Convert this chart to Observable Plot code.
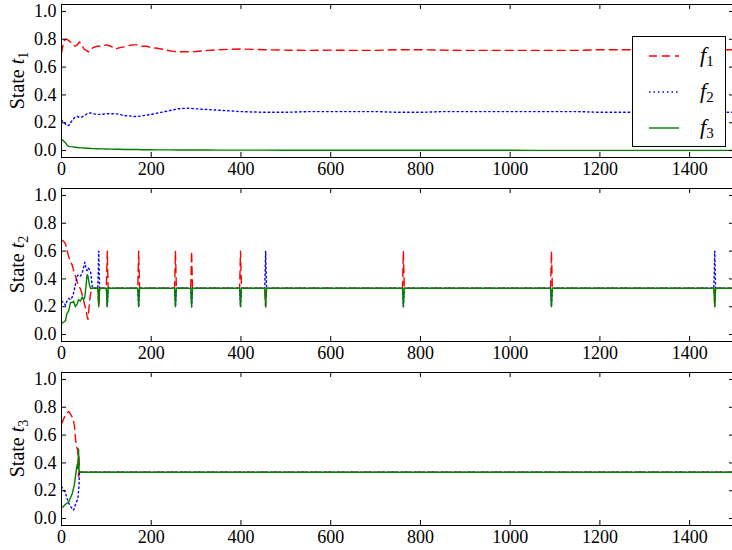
<!DOCTYPE html>
<html><head><meta charset="utf-8">
<script src="https://cdn.jsdelivr.net/npm/d3@7"></script>
<script src="https://cdn.jsdelivr.net/npm/@observablehq/plot@0.6"></script>
<style>
body{margin:0;background:#fff;overflow:hidden;width:732px;height:550px;position:relative;font-family:"Liberation Serif",serif}
#chart{position:absolute;left:0;top:0;width:735px}
#chart svg{display:block;max-width:none !important;overflow:visible}
#legend{position:absolute;left:632px;top:36px;width:92px;height:109px;border:1px solid #000;background:#fff}
</style></head><body><div id="chart"></div><div id="legend"></div>
<script>
const xTicks = [0, 200, 400, 600, 800, 1000, 1200, 1400];
const yTicks = [0, 0.2, 0.4, 0.6, 0.8, 1.0];
const seriesNames = ["1", "2", "3"];
const seriesColors = ["#ff0000", "#0000ff", "#008000"];
const seriesDash = ["8,5", "1.5,3", null];
const panelSubs = ["1", "2", "3"];

// Panel 1 (State t1)
const t1 = [0,3,6,9,12,16,20,25,30,35,40,45,50,55,60,65,70,80,90,100,110,120,130,140,150,160,170,180,190,200,215,230,245,260,280,300,325,350,375,400,450,500,550,600,650,700,750,800,850,900,950,1000,1050,1100,1150,1200,1250,1300,1350,1400,1450,1500];
const p1f1 = [.70,.75,.79,.80,.80,.79,.78,.76,.75,.76,.78,.76,.73,.72,.71,.72,.74,.75,.75,.76,.75,.73,.74,.745,.755,.76,.76,.75,.75,.74,.735,.725,.715,.71,.71,.712,.72,.725,.728,.73,.725,.722,.72,.722,.72,.72,.725,.725,.722,.72,.72,.72,.72,.72,.72,.725,.725,.725,.725,.725,.725,.725];
const p1f2 = [.22,.21,.20,.19,.18,.18,.20,.22,.24,.245,.24,.24,.25,.26,.27,.27,.265,.26,.26,.265,.265,.265,.26,.25,.25,.245,.245,.25,.255,.26,.27,.28,.29,.30,.305,.30,.295,.29,.285,.28,.275,.275,.28,.28,.28,.28,.275,.275,.28,.28,.28,.28,.28,.28,.28,.275,.275,.275,.275,.275,.275,.275];
const p1f3 = [.08,.075,.065,.055,.04,.03,.028,.026,.024,.022,.02,.019,.018,.017,.016,.015,.014,.013,.012,.011,.010,.009,.009,.008,.008,.007,.007,.006,.006,.006,.005,.005,.005,.004,.004,.004,.004,.003,.003,.003,.003,.002,.002,.002,.002,.002,.002,.002,.002,.002,.002,.002,.001,.001,.001,.001,.001,.001,.001,.001,.001,.001];

// Panel 2 (State t2)
const t2 = [0,5,9,12,16,20,24,27,31,35,38,42,46,49,52,55,57,59,62,65,69,81,83,85,100,102,104,170,172,174,252,254,256,288,290,292,397,399,401,453,455,457,760,762,764,1090,1092,1094,1454,1456,1458,1500];
const p2f1 = [.68,.67,.65,.61,.56,.52,.50,.46,.42,.38,.35,.33,.29,.25,.21,.17,.13,.11,.22,.30,.333,
  .333,.2,.333, .333,.6,.333, .333,.6,.333, .333,.6,.333, .333,.6,.333, .333,.6,.333, .333,.2,.333, .333,.6,.333, .333,.6,.333, .333,.2,.333, .333];
const p2f2 = [.24,.23,.21,.24,.26,.25,.27,.30,.36,.42,.43,.42,.44,.48,.52,.47,.46,.48,.47,.45,.333,
  .333,.6,.333, .333,.2,.333, .333,.2,.333, .333,.2,.333, .333,.2,.333, .333,.2,.333, .333,.6,.333, .333,.2,.333, .333,.2,.333, .333,.6,.333, .333];
const p2f3 = [.08,.09,.10,.15,.17,.23,.23,.24,.20,.22,.25,.24,.27,.25,.27,.36,.43,.42,.36,.33,.333,
  .333,.2,.333, .333,.2,.333, .333,.2,.333, .333,.2,.333, .333,.2,.333, .333,.2,.333, .333,.2,.333, .333,.2,.333, .333,.2,.333, .333,.2,.333, .333];

// Panel 3 (State t3)
const t3 = [0,4,8,12,16,20,24,27,29,31,33,35,36,37,38,39,40,1500];
const p3f1 = [.68,.71,.74,.76,.77,.75,.73,.70,.66,.58,.53,.50,.50,.44,.30,.45,.333,.333];
const p3f2 = [.23,.21,.19,.15,.11,.09,.07,.06,.08,.10,.12,.13,.14,.16,.20,.23,.333,.333];
const p3f3 = [.08,.085,.10,.11,.12,.15,.18,.22,.25,.30,.35,.39,.36,.40,.50,.34,.333,.333];

const fmtY = d3.format(".1f");
const fmtX = d3.format("d");
const FONT = "'Liberation Serif', serif";

function panel(t, series, sub) {
  const lines = series.map((vals, k) => Plot.line(
    t.map((x, i) => ({t: x, v: vals[i]})),
    {x: "t", y: "v", stroke: seriesColors[k], strokeWidth: 1.4,
     strokeDasharray: seriesDash[k], clip: true}
  ));
  const svg = Plot.plot({
    width: 735, height: 184,
    marginLeft: 61, marginRight: 1, marginTop: 4, marginBottom: 27,
    style: {fontFamily: FONT, fontSize: "18px", background: "transparent", color: "#000"},
    x: {domain: [0, 1500]},
    y: {domain: [-0.05, 1.05]},
    marks: [
      ...lines,
      Plot.tickX(xTicks, {x: d => d, insetTop: 148, stroke: "#000"}),
      Plot.tickX(xTicks, {x: d => d, insetBottom: 148, stroke: "#000"}),
      Plot.tickY(yTicks, {y: d => d, insetRight: 668, stroke: "#000"}),
      Plot.tickY(yTicks, {y: d => d, insetLeft: 668, stroke: "#000"}),
      Plot.axisX({ticks: xTicks, tickSize: 0, tickPadding: 5, tickFormat: fmtX, label: null}),
      Plot.axisY({ticks: yTicks, tickSize: 0, tickPadding: 5, tickFormat: fmtY, label: null}),
      Plot.frame({stroke: "#000", strokeWidth: 1})
    ]
  });
  const txt = d3.select(svg).append("text")
    .attr("transform", `translate(24,${(4 + 157) / 2}) rotate(-90)`)
    .attr("text-anchor", "middle")
    .attr("fill", "#000")
    .style("font-family", FONT)
    .style("font-size", "20px");
  txt.append("tspan").text("State ");
  txt.append("tspan").style("font-style", "italic").text("t");
  txt.append("tspan").attr("dy", 4).style("font-size", "14px").text(sub);
  return svg;
}

const chart = document.getElementById("chart");
chart.appendChild(panel(t1, [p1f1, p1f2, p1f3], panelSubs[0]));
chart.appendChild(panel(t2, [p2f1, p2f2, p2f3], panelSubs[1]));
chart.appendChild(panel(t3, [p3f1, p3f2, p3f3], panelSubs[2]));

// Legend
const lg = d3.select("#legend").append("svg").attr("width", 92).attr("height", 109);
seriesNames.forEach((name, k) => {
  const y = 19 + k * 36;
  lg.append("line").attr("x1", 16).attr("x2", 46).attr("y1", y).attr("y2", y)
    .attr("stroke", seriesColors[k]).attr("stroke-width", 1.4)
    .attr("stroke-dasharray", seriesDash[k]);
  const tx = lg.append("text").attr("x", 67).attr("y", y + 6).attr("fill", "#000")
    .style("font-family", FONT).style("font-size", "22px");
  tx.append("tspan").style("font-style", "italic").text("f");
  tx.append("tspan").attr("dy", 4).style("font-size", "15px").text(name);
});
</script>
</body></html>
